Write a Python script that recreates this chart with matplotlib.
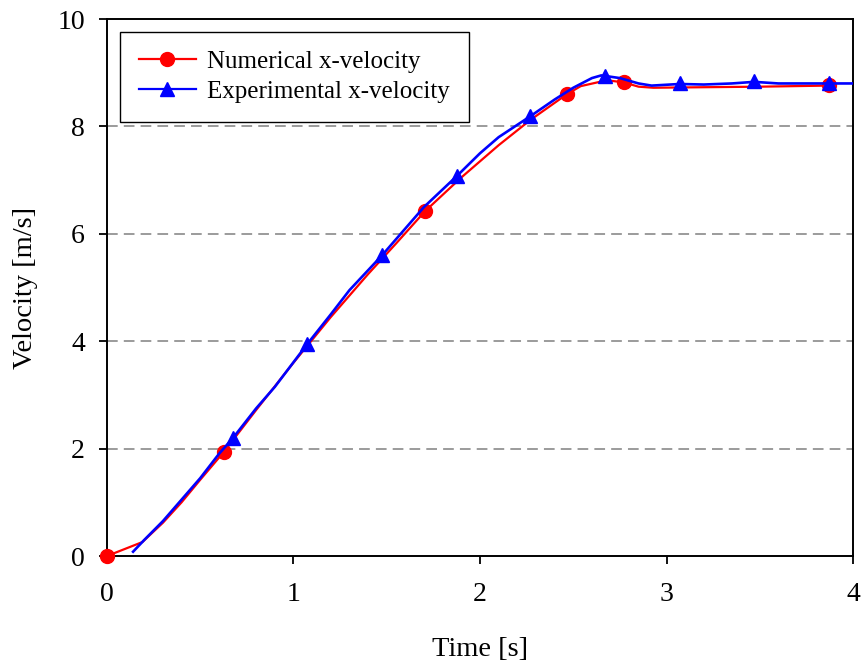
import matplotlib
matplotlib.use("Agg")
import matplotlib.pyplot as plt
from matplotlib.lines import Line2D

plt.rcParams['font.family'] = ['Liberation Serif', 'DejaVu Serif']

# 数值解曲线
num_t = [0, 0.19, 0.3, 0.4, 0.5, 0.627, 0.8, 1.0, 1.2, 1.4, 1.55, 1.705, 1.9, 2.1,
         2.27, 2.466, 2.54, 2.68, 2.77, 2.85, 2.93, 3.2, 3.5, 3.86]
num_v = [0, 0.26, 0.62, 1.0, 1.42, 1.94, 2.72, 3.6, 4.45, 5.25, 5.82, 6.42, 7.05, 7.65,
         8.12, 8.6, 8.75, 8.86, 8.82, 8.74, 8.72, 8.73, 8.74, 8.76]
num_mt = [0, 0.627, 1.705, 2.466, 2.77, 3.87]
num_mv = [0, 1.94, 6.42, 8.6, 8.82, 8.77]

# 实验曲线
exp_t = [0.14, 0.2, 0.3, 0.4, 0.5, 0.6, 0.676, 0.8, 0.9, 1.07, 1.2, 1.3, 1.475, 1.6,
         1.7, 1.877, 2.0, 2.1, 2.27, 2.4, 2.5, 2.6, 2.65, 2.75, 2.85, 2.92, 3.07,
         3.2, 3.35, 3.47, 3.6, 3.87, 4.02]
exp_v = [0.08, 0.3, 0.65, 1.05, 1.45, 1.9, 2.2, 2.75, 3.15, 3.93, 4.5, 4.95, 5.6, 6.1,
         6.5, 7.08, 7.5, 7.8, 8.19, 8.5, 8.72, 8.9, 8.95, 8.9, 8.8, 8.76, 8.79,
         8.78, 8.8, 8.83, 8.8, 8.8, 8.8]
exp_mt = [0.676, 1.07, 1.475, 1.877, 2.27, 2.67, 3.07, 3.47, 3.87]
exp_mv = [2.2, 3.95, 5.6, 7.08, 8.19, 8.94, 8.81, 8.85, 8.81]

fig = plt.figure(figsize=(8.62, 6.65), dpi=100)
ax = fig.add_axes([0.1241, 0.1639, 0.8655, 0.8075])

for yy in [2, 4, 6, 8]:
    ax.axhline(yy, color='#808080', lw=1.1, ls=(0, (7, 4)), zorder=1)

ax.plot(num_t, num_v, color='#ff0000', lw=1.6, zorder=3)
ax.plot(num_mt, num_mv, 'o', color='#ff0000', ms=10, zorder=4, clip_on=False)
ax.plot(exp_t, exp_v, color='#0000ff', lw=1.9, zorder=5)
ax.plot(exp_mt, exp_mv, '^', color='#0000ff', ms=10.5, zorder=6, clip_on=False)

ax.set_xlim(0, 4)
ax.set_ylim(0, 10)
ax.set_xticks([0, 1, 2, 3, 4])
ax.set_yticks([0, 2, 4, 6, 8, 10])
ax.tick_params(direction='out', length=6, width=1.3, labelsize=20, pad=10)
ax.tick_params(axis='x', pad=13)
for s in ax.spines.values():
    s.set_linewidth(1.4)
ax.set_xlabel('Time [s]', fontsize=20.5, labelpad=21)
ax.set_ylabel('Velocity [m/s]', fontsize=20.5, labelpad=14)

handles = [Line2D([], [], color='#ff0000', lw=1.6, marker='o', ms=10),
           Line2D([], [], color='#0000ff', lw=1.6, marker='^', ms=10.5)]
leg = ax.legend(handles, ['Numerical x-velocity', 'Experimental x-velocity'],
                loc='upper left', bbox_to_anchor=(0.0174, 0.976), fontsize=18,
                fancybox=False, framealpha=1, edgecolor='black', borderaxespad=0,
                handlelength=2.3, handletextpad=0.45, borderpad=0.75, labelspacing=0.3)
leg.get_frame().set_linewidth(1.0)

fig.savefig('out.png', dpi=100)
